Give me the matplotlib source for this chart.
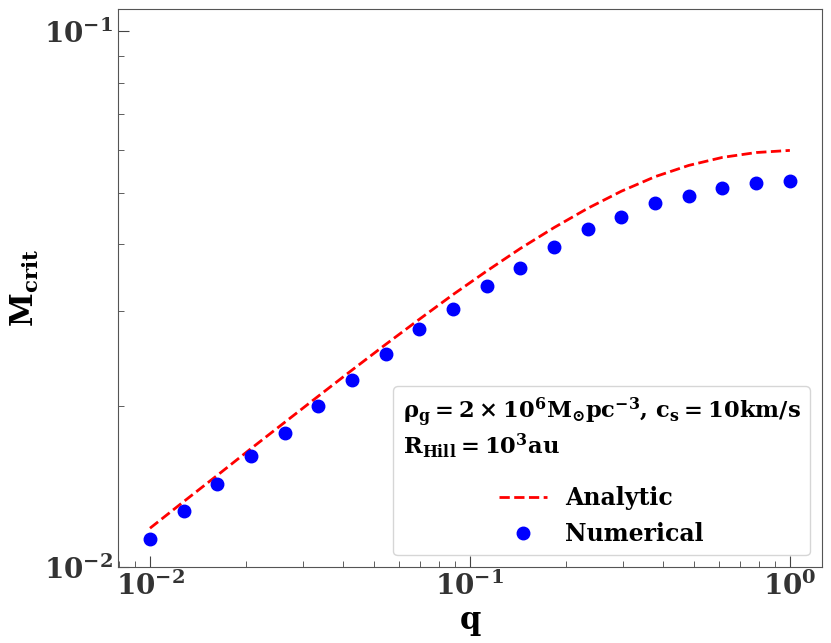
import matplotlib
matplotlib.use('Agg')
import matplotlib.pyplot as plt

plt.rcParams['font.family'] = 'serif'
plt.rcParams['font.serif'] = ['DejaVu Serif']
plt.rcParams['font.weight'] = 'bold'
plt.rcParams['mathtext.fontset'] = 'dejavuserif'
plt.rcParams['mathtext.default'] = 'bf'

# mass ratio q (20 log-spaced samples from 1e-2 to 1)
q = [0.01, 0.01274, 0.01624, 0.02069, 0.02637, 0.03360, 0.04281, 0.05456,
     0.06952, 0.08859, 0.1129, 0.1438, 0.1833, 0.2336, 0.2976, 0.3793,
     0.4833, 0.6158, 0.7848, 1.0]

m_analytic = [0.01182, 0.01325, 0.01484, 0.01664, 0.01863, 0.02085, 0.02332,
              0.02604, 0.02901, 0.03226, 0.03569, 0.03932, 0.04301, 0.04673,
              0.05029, 0.05353, 0.05618, 0.05815, 0.05937, 0.05992]

m_numerical = [0.01128, 0.01272, 0.01428, 0.01611, 0.01778, 0.01997, 0.02233,
               0.02497, 0.02780, 0.03030, 0.03345, 0.03612, 0.03953, 0.04272,
               0.04498, 0.04776, 0.04923, 0.05095, 0.05202, 0.05248]

fig = plt.figure(figsize=(8.31, 6.43), dpi=100)
ax = fig.add_axes([0.142, 0.118, 0.847, 0.868])

ax.plot(q, m_analytic, 'r--', lw=2, label='Analytic')
ax.plot(q, m_numerical, 'bo', ms=9, label='Numerical')

ax.set_xscale('log')
ax.set_yscale('log')
ax.set_ylim(1e-2, 1.1e-1)

ax.set_xlabel(r'$\mathbf{q}$', fontsize=22)
ax.set_ylabel(r'$\mathbf{M_{crit}}$', fontsize=22, labelpad=2)

ax.tick_params(which='both', direction='in', colors='#444444', labelcolor='#333333')
ax.tick_params(which='major', length=8, labelsize=20)
ax.tick_params(which='minor', length=4)
for s in ax.spines.values():
    s.set_color('#555555')

title = (r'$\rho_g = 2\times10^6 M_{\odot}pc^{-3}$, $c_s = 10 km/s$' + '\n'
         + r'$R_{Hill} = 10^3 au$')
leg = ax.legend(loc='lower right', fontsize=17, title=title,
                title_fontsize=16.3)
leg.get_title().set_linespacing(1.1)
# wider gap between the parameter text and the entries
leg._legend_box.sep = 19

fig.savefig('out.png', dpi=100)
